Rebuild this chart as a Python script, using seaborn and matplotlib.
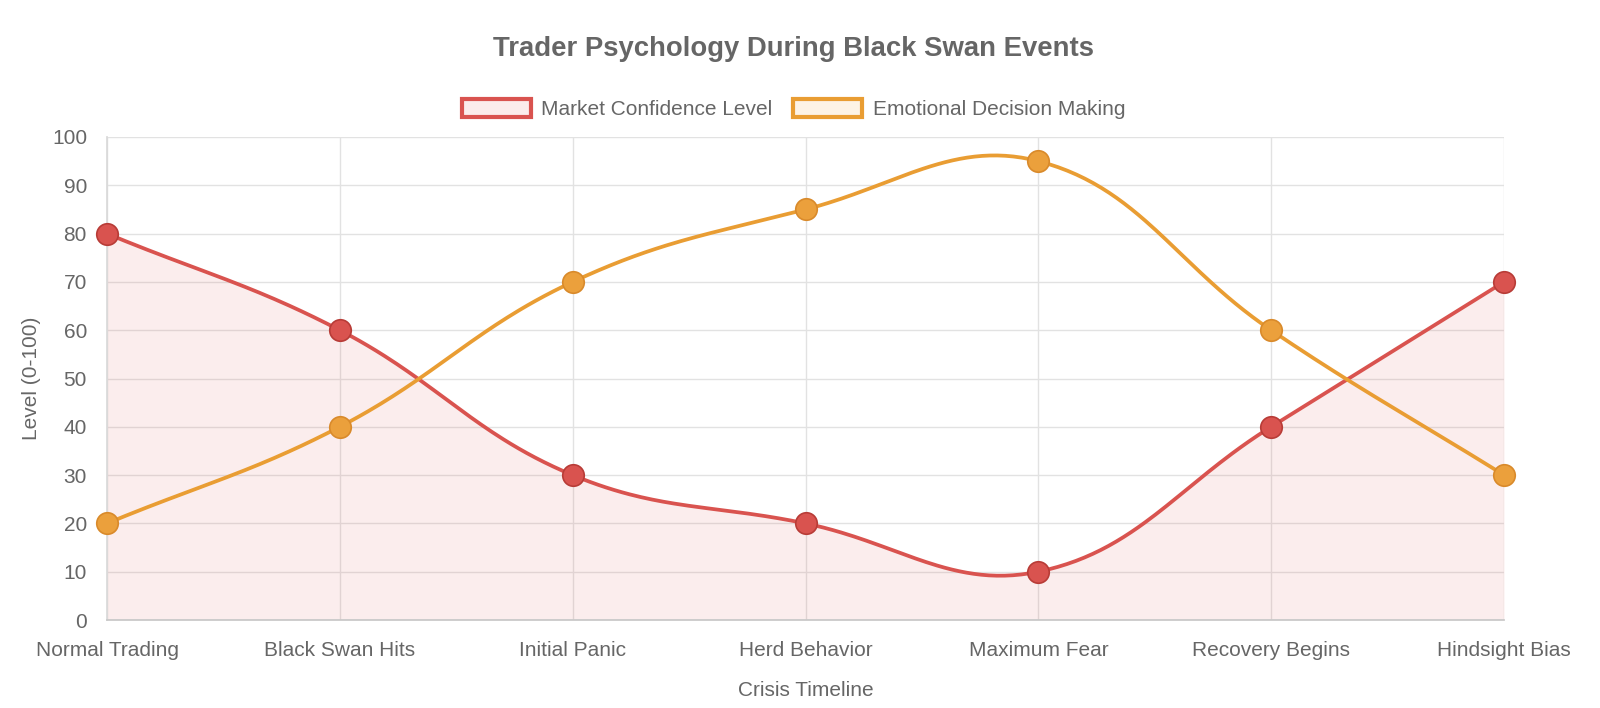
import numpy as np
import pandas as pd
import matplotlib
matplotlib.use("Agg")
import matplotlib.pyplot as plt
import seaborn as sns
from matplotlib.patches import Patch

stages = ['Normal Trading', 'Black Swan Hits', 'Initial Panic', 'Herd Behavior',
          'Maximum Fear', 'Recovery Begins', 'Hindsight Bias']
confidence = [80, 60, 30, 20, 10, 40, 70]
emotional = [20, 40, 70, 85, 95, 60, 30]

red = '#d9534f'
orange = '#e99d33'
txt = '#666666'

sns.set_theme(style='white')
plt.rcParams['font.family'] = ['Liberation Sans', 'DejaVu Sans']

fig = plt.figure(figsize=(16, 7.08), dpi=100)
# plot area in pixels: x 107..1504, y 137..620
ax = fig.add_axes([107 / 1600, 88 / 708, 1397 / 1600, 483 / 708])
ax.set_xlim(0, len(stages) - 1)
ax.set_ylim(0, 100)


def smooth(vals, t=0.4, n=60):
    # chart.js style bezier (tension 0.4), control points in pixel space
    x = np.arange(len(vals), dtype=float)
    pts = ax.transData.transform(np.column_stack([x, vals]))
    ctrl = []
    for i in range(len(pts)):
        prev = pts[max(i - 1, 0)]
        cur = pts[i]
        nxt = pts[min(i + 1, len(pts) - 1)]
        d01 = np.hypot(*(cur - prev))
        d12 = np.hypot(*(nxt - cur))
        tot = d01 + d12
        s01 = d01 / tot if tot else 0
        s12 = d12 / tot if tot else 0
        ctrl.append((cur - t * s01 * (nxt - prev), cur + t * s12 * (nxt - prev)))
    out = []
    u = np.linspace(0, 1, n)[:, None]
    for i in range(len(pts) - 1):
        p0, p3 = pts[i], pts[i + 1]
        p1, p2 = ctrl[i][1], ctrl[i + 1][0]
        seg = ((1 - u) ** 3) * p0 + 3 * ((1 - u) ** 2) * u * p1 + 3 * (1 - u) * u ** 2 * p2 + u ** 3 * p3
        out.append(seg if i == 0 else seg[1:])
    out = ax.transData.inverted().transform(np.vstack(out))
    return out[:, 0], out[:, 1]


cx, cy = smooth(confidence)
ex, ey = smooth(emotional)

ax.fill_between(cx, cy, 0, color=red, alpha=0.1, lw=0, zorder=1)
sns.lineplot(x=cx, y=cy, sort=False, estimator=None, color=red, lw=2.7, ax=ax, zorder=3)
sns.lineplot(x=ex, y=ey, sort=False, estimator=None, color=orange, lw=2.7, ax=ax, zorder=3)

pos = np.arange(len(stages))
ax.scatter(pos, confidence, s=240, color=red, edgecolor='#b83c37', linewidth=1.2, zorder=5, clip_on=False)
ax.scatter(pos, emotional, s=240, color='#eba03c', edgecolor='#d98a2b', linewidth=1.2, zorder=5, clip_on=False)

ax.set_xticks(pos)
ax.set_xticklabels(stages)
ax.set_yticks(range(0, 101, 10))
ax.grid(True, color='#e2e2e2', lw=1)
ax.set_axisbelow(True)
ax.tick_params(axis='both', length=9.4, color='#e2e2e2', labelsize=15, labelcolor=txt)
ax.tick_params(axis='y', pad=5)
ax.tick_params(axis='x', pad=6)
for s in ['top', 'right']:
    ax.spines[s].set_visible(False)
ax.spines['left'].set_color('#d9d9d9')
ax.spines['bottom'].set_color('#c8c8c8')

ax.set_xlabel('Crisis Timeline', fontsize=15, color=txt, va='center')
ax.set_ylabel('Level (0-100)', fontsize=15, color=txt, va='center')
ax.xaxis.set_label_coords(0.5, -0.145)
ax.yaxis.set_label_coords(-0.0544, 0.5)

fig.text(0.496, 1 - 49 / 708, 'Trader Psychology During Black Swan Events',
         ha='center', va='center', fontsize=19.8, fontweight='bold', color=txt)

handles = [Patch(facecolor='#fbeceb', edgecolor=red, lw=3, label='Market Confidence Level'),
           Patch(facecolor='#fdf3e6', edgecolor=orange, lw=3, label='Emotional Decision Making')]
fig.legend(handles=handles, loc='center', bbox_to_anchor=(0.496, 1 - 109 / 708), ncol=2,
           frameon=False, fontsize=15, labelcolor=txt, handlelength=3.3, handleheight=1.0,
           handletextpad=0.5, columnspacing=1.0)

fig.savefig('out.png', dpi=100, facecolor='white')
